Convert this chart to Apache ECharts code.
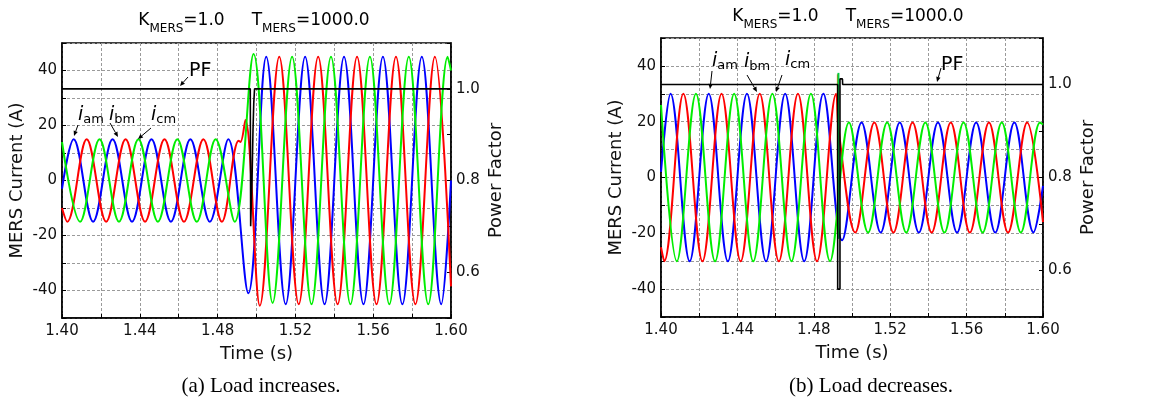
<!DOCTYPE html>
<html><head><meta charset="utf-8">
<script src="https://cdn.jsdelivr.net/npm/echarts@6/dist/echarts.min.js"></script>
<style>html,body{margin:0;padding:0;background:#fff}#c{width:1163px;height:408px}</style>
</head><body><div id="c"></div>
<script>
// ---------- tick labels ----------
const xTickLabels = ['1.40','1.44','1.48','1.52','1.56','1.60'];
const yTickLabels = ['-40','-20','0','20','40'];
const pfTickLabels = ['0.6','0.8','1.0'];

// ---------- (a) Load increases : [time (s), current (A)] ----------
const iaA = [[1.40,-3],[1.406,15],[1.416,-15],[1.426,15],[1.436,-15],[1.446,15],[1.456,-15],[1.466,15],[1.476,-15],[1.4855,15],[1.4958,-41],[1.505,45],[1.515,-45],[1.525,45],[1.535,-45],[1.545,45],[1.555,-45],[1.565,45],[1.575,-45],[1.585,45],[1.595,-45],[1.60,0]];
const ibA = [[1.40,-10],[1.4027,-15],[1.4127,15],[1.4227,-15],[1.4327,15],[1.4427,-15],[1.4527,15],[1.4627,-15],[1.4727,15],[1.4822,-15],[1.4908,14.5],[1.4918,14],[1.4943,22],[1.5017,-45.5],[1.5117,45],[1.5217,-45],[1.5317,45],[1.5417,-45],[1.5517,45],[1.5617,-45],[1.5717,45],[1.5817,-45],[1.5917,45],[1.60,-38.5]];
const icA = [[1.40,14],[1.4093,-15],[1.4193,15],[1.4293,-15],[1.4393,15],[1.4493,-15],[1.4593,15],[1.4693,-15],[1.4790,15],[1.4888,-15],[1.4985,46],[1.5083,-44.5],[1.5183,45],[1.5283,-45],[1.5383,45],[1.5483,-45],[1.5583,45],[1.5683,-45],[1.5783,45],[1.5883,-45],[1.5983,45],[1.60,40]];
const pfA = [[1.40,1.0],[1.4968,1.0],[1.4970,0.70],[1.4976,0.70],[1.4977,0.80],[1.4981,0.80],[1.4982,0.91],[1.4985,0.91],[1.4986,0.97],[1.4989,0.97],[1.4990,1.0],[1.60,1.0]];

// ---------- (b) Load decreases ----------
const iaB = [[1.40,2],[1.405,30],[1.415,-30],[1.425,30],[1.435,-30],[1.445,30],[1.455,-30],[1.465,30],[1.475,-30],[1.485,30],[1.4948,-22.5],[1.505,19.7],[1.515,-19.7],[1.525,19.7],[1.535,-19.7],[1.545,19.7],[1.555,-19.7],[1.565,19.7],[1.575,-19.7],[1.585,19.7],[1.595,-19.7],[1.60,-3]];
const ibB = [[1.40,-25],[1.4017,-30],[1.4117,30],[1.4217,-30],[1.4317,30],[1.4417,-30],[1.4517,30],[1.4617,-30],[1.4717,30],[1.4817,-30],[1.4917,30],[1.4930,17],[1.5017,-19.7],[1.5117,19.7],[1.5217,-19.7],[1.5317,19.7],[1.5417,-19.7],[1.5517,19.7],[1.5617,-19.7],[1.5717,19.7],[1.5817,-19.7],[1.5917,19.7],[1.60,-16]];
const icB = [[1.40,26],[1.4083,-30],[1.4183,30],[1.4283,-30],[1.4383,30],[1.4483,-30],[1.4583,30],[1.4683,-30],[1.4785,30],[1.4885,-30],[1.4984,19.7],[1.5084,-19.7],[1.5184,19.7],[1.5284,-19.7],[1.5384,19.7],[1.5484,-19.7],[1.5584,19.7],[1.5684,-19.7],[1.5784,19.7],[1.5884,-19.7],[1.5984,19.7],[1.60,19]];
const spikeOrangeB = [[1.4926,-20],[1.4926,37]];
const spikeGreenB = [[1.4929,-22],[1.4929,37.5]];
const pfB = [[1.40,1.0],[1.4925,1.0],[1.4925,0.56],[1.4937,0.56],[1.4937,1.012],[1.4950,1.012],[1.4951,1.0],[1.60,1.0]];

// ---------- chart ----------
const FONT = 'DejaVu Sans';
const chart = echarts.init(document.getElementById('c'), null, {renderer:'canvas'});

function xAxisFor(g){
  return {gridIndex:g, type:'value', min:1.4, max:1.6, interval:0.02,
    axisLine:{onZero:false, lineStyle:{color:'#000', width:1.5}},
    axisTick:{inside:true, length:4, lineStyle:{color:'#000'}},
    axisLabel:{margin:6, fontSize:15, fontFamily:FONT, color:'#111',
      formatter:v=>{const s=v.toFixed(2); return xTickLabels.includes(s)?s:'';}},
    splitLine:{show:true, lineStyle:{color:'#9a9a9a', type:[3,2], width:1}},
    name:'Time (s)', nameLocation:'middle', nameGap:27,
    nameTextStyle:{fontSize:18, fontFamily:FONT, color:'#111'}};
}
function yLeftFor(g){
  return {gridIndex:g, type:'value', position:'left', min:-50, max:50, interval:10,
    axisLine:{show:true, onZero:false, lineStyle:{color:'#000', width:1.5}},
    axisTick:{show:true, inside:true, length:4, lineStyle:{color:'#000'}},
    axisLabel:{margin:5, fontSize:15, fontFamily:FONT, color:'#111',
      formatter:v=>{const s=String(Math.round(v)); return yTickLabels.includes(s)?s:'';}},
    splitLine:{show:true, lineStyle:{color:'#9a9a9a', type:[3,2], width:1}},
    name:'MERS Current (A)', nameLocation:'middle', nameGap:36, nameRotate:90,
    nameTextStyle:{fontSize:18, fontFamily:FONT, color:'#111'}};
}
function yRightFor(g){
  return {gridIndex:g, type:'value', position:'right', min:0.5, max:1.1, interval:0.1,
    axisLine:{show:true, onZero:false, lineStyle:{color:'#000', width:1.5}},
    axisTick:{show:true, inside:true, length:4, lineStyle:{color:'#000'}},
    axisLabel:{margin:5, fontSize:15, fontFamily:FONT, color:'#111',
      formatter:v=>{const s=(Math.round(v*10)/10).toFixed(1); return pfTickLabels.includes(s)?s:'';}},
    splitLine:{show:false},
    name:'Power Factor', nameLocation:'middle', nameGap:36, nameRotate:90,
    nameTextStyle:{fontSize:18, fontFamily:FONT, color:'#111'}};
}
function wave(data, color, xi, yi, z){
  return {type:'line', data, xAxisIndex:xi, yAxisIndex:yi, smooth:0.36, showSymbol:false,
    symbol:'none', lineStyle:{color, width:2}, itemStyle:{color}, z, animation:false, silent:true};
}
function straight(data, color, xi, yi, z, w){
  return {type:'line', data, xAxisIndex:xi, yAxisIndex:yi, smooth:false, showSymbol:false,
    symbol:'none', lineStyle:{color, width:w}, itemStyle:{color}, z, animation:false, silent:true};
}

// annotation helpers
function arrow(x1,y1,x2,y2){
  const dx=x2-x1, dy=y2-y1, L=Math.hypot(dx,dy), ux=dx/L, uy=dy/L;
  const hl=5, hw=2.2, bx=x2-ux*hl, by=y2-uy*hl;
  return [
    {type:'line', z:100, shape:{x1, y1, x2:bx, y2:by}, style:{stroke:'#000', lineWidth:1}},
    {type:'polygon', z:100, shape:{points:[[x2,y2],[bx-uy*hw,by+ux*hw],[bx+uy*hw,by-ux*hw]]}, style:{fill:'#000'}}
  ];
}
function subLabel(x,y,sub){
  return {type:'text', z:100, x, y, style:{text:'{i|i}{s|'+sub+'}', align:'left', verticalAlign:'middle',
    rich:{i:{fontSize:19, fontStyle:'italic', fontFamily:FONT, fill:'#000'},
          s:{fontSize:13, fontFamily:FONT, fill:'#000', padding:[10,0,0,0]}}}};
}
function titleText(x,y){
  return {type:'text', z:100, x, y, style:{text:'{m|K}{s|MERS}{m|=1.0     T}{s|MERS}{m|=1000.0}', align:'center', verticalAlign:'middle',
    rich:{m:{fontSize:17, fontFamily:FONT, fill:'#000'},
          s:{fontSize:12, fontFamily:FONT, fill:'#000', padding:[16,0,0,0]}}}};
}
function plain(x,y,text,size,family){
  return {type:'text', z:100, x, y, style:{text, fontSize:size, fontFamily:family, fill:'#000', align:'center', verticalAlign:'middle'}};
}

const graphics = [
  titleText(254,21), titleText(848,17),
  plain(261,386,'(a) Load increases.',21,'Liberation Serif'),
  plain(871,386,'(b) Load decreases.',21,'Liberation Serif'),
  // panel a annotations
  {type:'text', z:100, x:189, y:71, style:{text:'PF', fontSize:19, fontFamily:FONT, fill:'#000', align:'left', verticalAlign:'middle'}},
  ...arrow(188,77,180,86),
  subLabel(78,115,'am'), ...arrow(78,125,74,136),
  subLabel(109,115,'bm'), ...arrow(110,123,118,137),
  subLabel(151,115,'cm'), ...arrow(151,128,138,139),
  // panel b annotations
  {type:'text', z:100, x:941, y:65, style:{text:'PF', fontSize:19, fontFamily:FONT, fill:'#000', align:'left', verticalAlign:'middle'}},
  ...arrow(941,68,937,82),
  subLabel(712,61,'am'), ...arrow(712,71,710,89),
  subLabel(744,62,'bm'), ...arrow(747,75,757,92),
  subLabel(785,60,'cm'), ...arrow(782,75,776,92)
];

chart.setOption({
  animation:false,
  backgroundColor:'#fff',
  grid:[
    {left:62, top:43, width:389, height:275, show:true, borderColor:'#000', borderWidth:1.5, containLabel:false},
    {left:661, top:38, width:382, height:279, show:true, borderColor:'#000', borderWidth:1.5, containLabel:false}
  ],
  xAxis:[xAxisFor(0), xAxisFor(1)],
  yAxis:[yLeftFor(0), yRightFor(0), yLeftFor(1), yRightFor(1)],
  series:[
    wave(iaA,'#0000ff',0,0,2), wave(ibA,'#ff0000',0,0,3), wave(icA,'#00ee00',0,0,4),
    straight(pfA,'#000',0,1,6,1.6),
    wave(iaB,'#0000ff',1,2,2), wave(ibB,'#ff0000',1,2,3), wave(icB,'#00ee00',1,2,4),
    straight(spikeOrangeB,'#e08000',1,2,5,2), straight(spikeGreenB,'#00cc44',1,2,5,2),
    straight(pfB,'#000',1,3,6,1.6)
  ],
  graphic:graphics
});
</script>
</body></html>
